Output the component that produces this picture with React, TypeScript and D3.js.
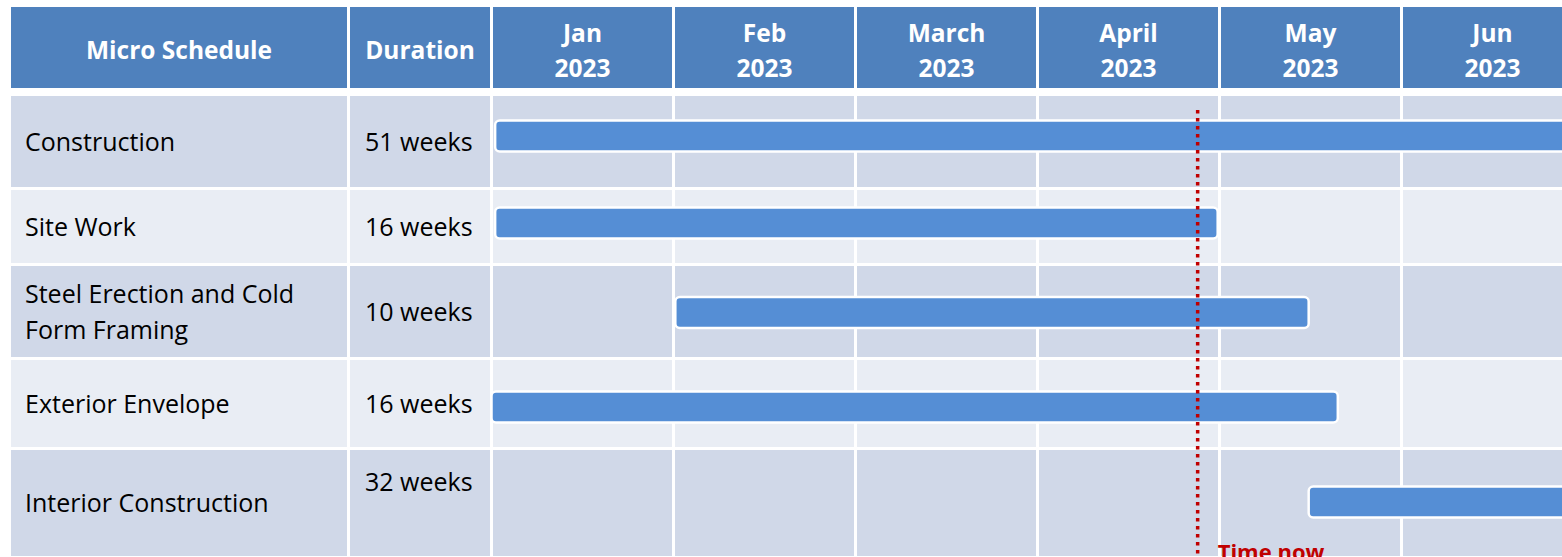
import React from "react";
import * as d3 from "d3";

const months = ["Jan", "Feb", "March", "April", "May", "Jun"];
const years = ["2023", "2023", "2023", "2023", "2023", "2023"];
const tasks = ["Construction", "Site Work", "Steel Erection and Cold|Form Framing", "Exterior Envelope", "Interior Construction"];
const durations = ["51 weeks", "16 weeks", "10 weeks", "16 weeks", "32 weeks"];
// start / end in months from 1 Jan 2023
const taskStart = [0.02, 0.02, 1.01, 0.0, 4.49];
const taskEnd = [11.7, 3.99, 4.49, 4.65, 11.9];
const timeNow = 3.88;

// layout
const W = 1562;
const H = 557;
const rowHeights = [91, 73, 91, 87, 106];
const barOffsets = [-5.5, -3.5, 1, 3.5, -1];
const durTopAligned = [false, false, false, false, true];
const GAP = 3;

export default function App() {
  const x = d3.scaleLinear().domain([0, 1]).range([491.5, 673.5]);
  const headerTop = 7;
  const headerBottom = 88;
  const bodyTop = 96;
  const rowTops: number[] = [];
  let acc = bodyTop;
  rowHeights.forEach((h) => {
    rowTops.push(acc);
    acc += h + GAP;
  });
  const colLeft = 11;
  const col1End = 347;
  const col2Start = 350;
  const col2End = 490;
  const font = "'Open Sans', sans-serif";
  const blue = "#4f81bd";
  const rowFill = (i: number) => (i % 2 === 0 ? "#d0d8e8" : "#e9edf4");
  const barH = 31;
  const hdrSize = 24.5;

  return (
    <svg width={W} height={H} style={{ position: "fixed", left: 0, top: 0, display: "block" }} fontFamily={font}>
      <rect x={0} y={0} width={W} height={H} fill="#ffffff" />
      {/* header */}
      <rect x={colLeft} y={headerTop} width={col1End - colLeft} height={headerBottom - headerTop} fill={blue} />
      <rect x={col2Start} y={headerTop} width={col2End - col2Start} height={headerBottom - headerTop} fill={blue} />
      <text x={(colLeft + col1End) / 2} y={59} textAnchor="middle" fill="#fff" fontWeight="bold" fontSize={hdrSize}>Micro Schedule</text>
      <text x={(col2Start + col2End) / 2} y={59} textAnchor="middle" fill="#fff" fontWeight="bold" fontSize={hdrSize}>Duration</text>
      {months.map((m, i) => {
        const x0 = x(i) + GAP / 2;
        const x1 = x(i + 1) - GAP / 2;
        return (
          <g key={m}>
            <rect x={x0} y={headerTop} width={x1 - x0} height={headerBottom - headerTop} fill={blue} />
            <text x={(x0 + x1) / 2} y={42} textAnchor="middle" fill="#fff" fontWeight="bold" fontSize={hdrSize}>{m}</text>
            <text x={(x0 + x1) / 2} y={77} textAnchor="middle" fill="#fff" fontWeight="bold" fontSize={hdrSize}>{years[i]}</text>
          </g>
        );
      })}
      {/* body rows */}
      {tasks.map((t, r) => {
        const y0 = rowTops[r];
        const h = rowHeights[r];
        const lines = t.split("|");
        const cy = y0 + h / 2;
        return (
          <g key={t}>
            <rect x={colLeft} y={y0} width={col1End - colLeft} height={h} fill={rowFill(r)} />
            <rect x={col2Start} y={y0} width={col2End - col2Start} height={h} fill={rowFill(r)} />
            {months.map((m, i) => {
              const x0 = x(i) + GAP / 2;
              const x1 = x(i + 1) - GAP / 2;
              return <rect key={m} x={x0} y={y0} width={x1 - x0} height={h} fill={rowFill(r)} />;
            })}
            {lines.map((ln, k) => (
              <text key={k} x={25} y={cy + 9 + (k - (lines.length - 1) / 2) * 36} fontSize={25} fill="#000">{ln}</text>
            ))}
            <text x={365} y={durTopAligned[r] ? y0 + 41 : cy + 9} fontSize={25} fill="#000">{durations[r]}</text>
          </g>
        );
      })}
      {/* bars */}
      {tasks.map((t, r) => {
        const cy = rowTops[r] + rowHeights[r] / 2 + barOffsets[r];
        const xs = x(taskStart[r]);
        const xe = x(taskEnd[r]);
        return (
          <rect key={t} x={xs} y={cy - barH / 2} width={xe - xs} height={barH} rx={4.5} fill="#558ed5" stroke="#ffffff" strokeWidth={2.5} />
        );
      })}
      {/* time now */}
      <line x1={x(timeNow)} x2={x(timeNow)} y1={110} y2={H} stroke="#c00000" strokeWidth={3.5} strokeDasharray="3.5 4.5" />
      <text x={x(timeNow) + 20} y={560} fontSize={22} fontWeight="bold" fill="#c00000">Time now</text>
    </svg>
  );
}
